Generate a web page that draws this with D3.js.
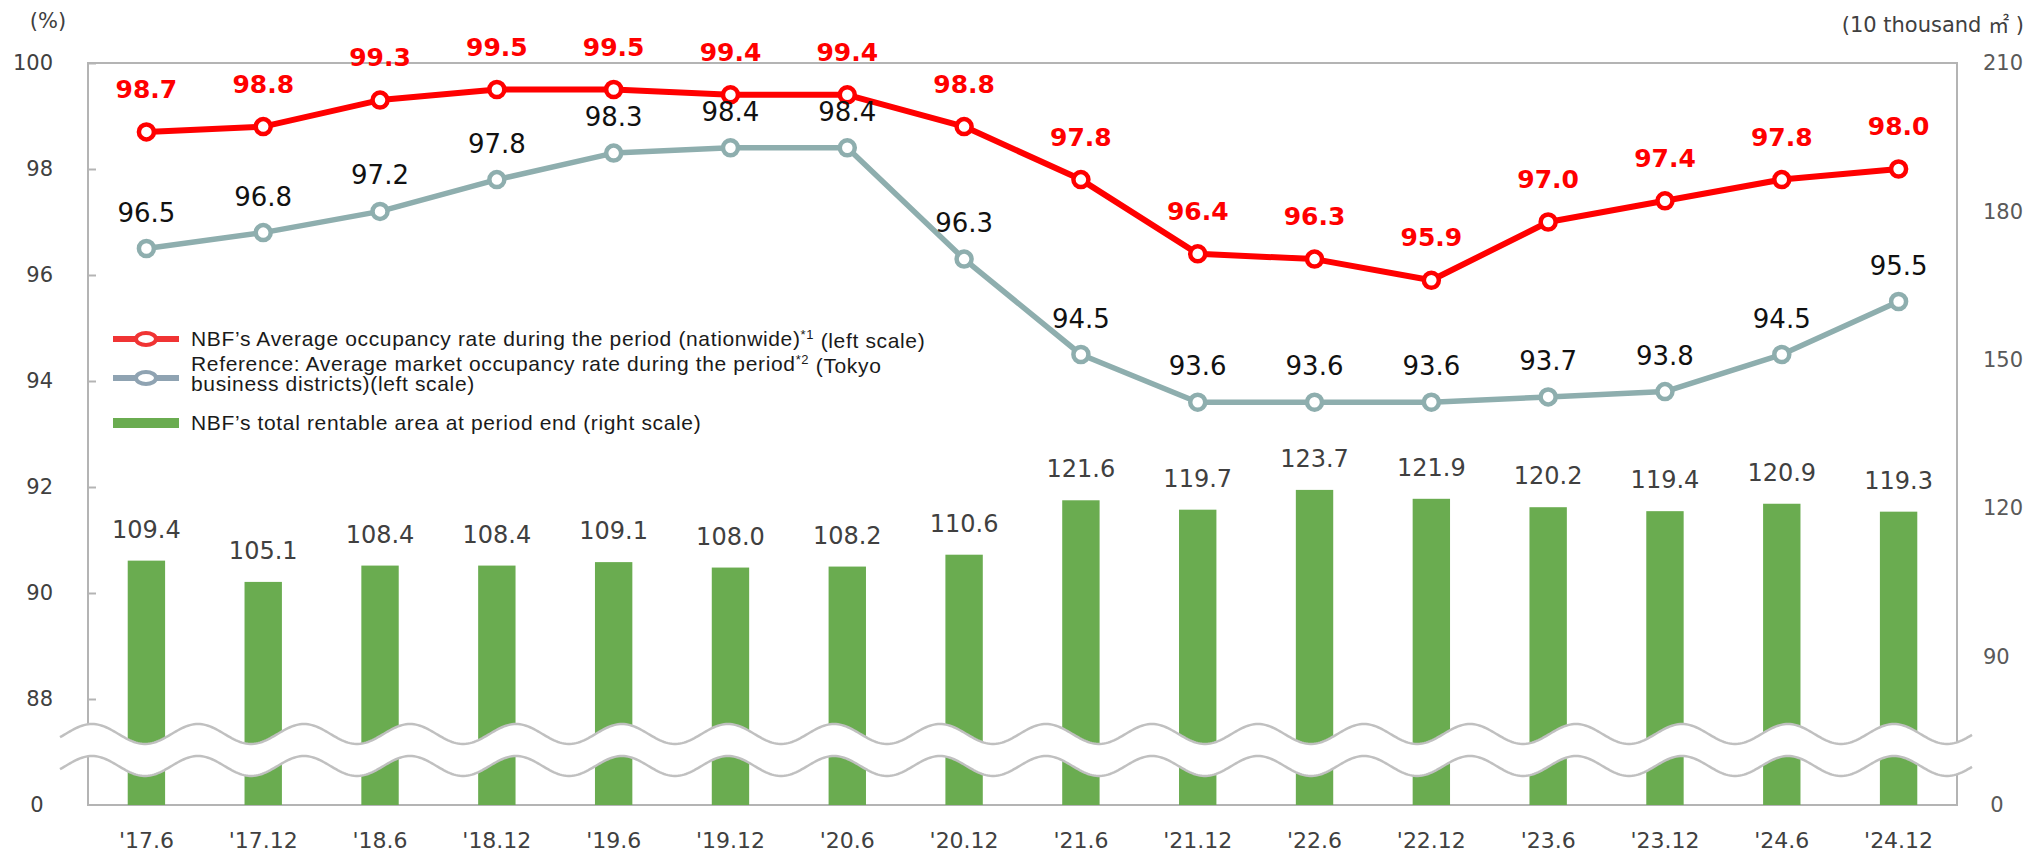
<!DOCTYPE html>
<html>
<head>
<meta charset="utf-8">
<script src="https://d3js.org/d3.v7.min.js"></script>
<style>
  body { margin: 0; background: #fff; }
  text { font-family: "DejaVu Sans", Verdana, sans-serif; }
  .axis text { font-size: 21px; }
  .legend text { font-family: "Liberation Sans", Arial, sans-serif; font-size: 21px; letter-spacing: 0.65px; fill: #1a1a1a; }
</style>
</head>
<body>
<svg width="2031" height="852"></svg>
<script>
const periods = ["'17.6", "'17.12", "'18.6", "'18.12", "'19.6", "'19.12", "'20.6", "'20.12",
                 "'21.6", "'21.12", "'22.6", "'22.12", "'23.6", "'23.12", "'24.6", "'24.12"];
const nbfOccupancy = [98.7, 98.8, 99.3, 99.5, 99.5, 99.4, 99.4, 98.8, 97.8, 96.4, 96.3, 95.9, 97.0, 97.4, 97.8, 98.0];
const marketOccupancy = [96.5, 96.8, 97.2, 97.8, 98.3, 98.4, 98.4, 96.3, 94.5, 93.6, 93.6, 93.6, 93.7, 93.8, 94.5, 95.5];
const rentableArea = [109.4, 105.1, 108.4, 108.4, 109.1, 108.0, 108.2, 110.6, 121.6, 119.7, 123.7, 121.9, 120.2, 119.4, 120.9, 119.3];
const leftTicks = [88, 90, 92, 94, 96, 98, 100];
const rightTicks = [90, 120, 150, 180, 210];

const svg = d3.select("svg");
const plot = { left: 88, right: 1957, top: 63, bottom: 805 };

const x = d3.scaleBand().domain(periods)
    .range([plot.left, plot.right])
    .paddingInner(0.68).paddingOuter(0.34);
const cx = d => x(d) + x.bandwidth() / 2;

// left scale: 86 sits under the axis break and is shown as "0"
const yL = d3.scaleLinear().domain([86, 100]).range([plot.bottom, plot.top]);
// right scale: 60 sits under the axis break and is shown as "0"
const yR = d3.scaleLinear().domain([60, 210]).range([plot.bottom, plot.top]);

const gridColor = "#b4b4b4";

// frame
svg.append("rect")
    .attr("x", plot.left).attr("y", plot.top)
    .attr("width", plot.right - plot.left).attr("height", plot.bottom - plot.top)
    .attr("fill", "none").attr("stroke", gridColor).attr("stroke-width", 2);

// left axis
const leftAxis = svg.append("g").attr("class", "axis")
    .attr("transform", `translate(${plot.left},0)`)
    .call(d3.axisLeft(yL).tickValues(leftTicks).tickSizeInner(-8).tickSizeOuter(0).tickPadding(35));
leftAxis.select(".domain").remove();
leftAxis.selectAll("line").attr("stroke", gridColor).attr("stroke-width", 2);
leftAxis.selectAll("text").attr("fill", "#404040");

// right axis
const rightAxis = svg.append("g").attr("class", "axis")
    .attr("transform", `translate(${plot.right},0)`)
    .call(d3.axisRight(yR).tickValues(rightTicks).tickSize(0).tickPadding(26));
rightAxis.select(".domain").remove();
rightAxis.selectAll("text").attr("fill", "#595959");

// "0" labels under the break
svg.append("text").attr("x", 37).attr("y", yL(86)).attr("dy", "0.35em")
    .attr("text-anchor", "middle").attr("font-size", 21).attr("fill", "#404040").text("0");
svg.append("text").attr("x", 1997).attr("y", yR(60)).attr("dy", "0.35em")
    .attr("text-anchor", "middle").attr("font-size", 21).attr("fill", "#595959").text("0");

// unit captions
svg.append("text").attr("x", 48).attr("y", 21).attr("dy", "0.35em")
    .attr("text-anchor", "middle").attr("font-size", 21).attr("fill", "#404040").text("(%)");
const unit = svg.append("text").attr("x", 2024).attr("y", 25).attr("dy", "0.35em")
    .attr("text-anchor", "end").attr("font-size", 21).attr("fill", "#404040");
unit.append("tspan").text("(10 thousand ");
unit.append("tspan").attr("font-family", "'Noto Sans CJK JP', sans-serif").text("㎡");
unit.append("tspan").text(" )");

// x axis labels
svg.append("g").selectAll("text")
    .data(periods)
    .join("text")
    .attr("x", d => cx(d))
    .attr("y", 840).attr("dy", "0.35em")
    .attr("text-anchor", "middle")
    .attr("font-size", 22)
    .attr("fill", "#404040")
    .text(d => d);

// bars
svg.append("g").selectAll("rect")
    .data(rentableArea)
    .join("rect")
    .attr("x", (d, i) => x(periods[i]))
    .attr("y", d => yR(d))
    .attr("width", x.bandwidth())
    .attr("height", d => plot.bottom - yR(d))
    .attr("fill", "#6aac50");

svg.append("g").selectAll("text")
    .data(rentableArea)
    .join("text")
    .attr("x", (d, i) => cx(periods[i]))
    .attr("y", d => yR(d) - 23)
    .attr("text-anchor", "middle")
    .attr("font-size", 24)
    .attr("fill", "#404040")
    .text(d => d.toFixed(1));

// axis break (two waves with a white gap)
const wavePeriod = 106, waveAmp = 10, waveGap = 32;
const waveXs = d3.range(60, 1973, 2);
const waveY = xv => 734 + waveAmp * Math.cos(2 * Math.PI * (xv - 145) / wavePeriod);
const upper = waveXs.map(xv => [xv, waveY(xv)]);
const lower = waveXs.map(xv => [xv, waveY(xv) + waveGap]);
svg.append("path")
    .attr("d", d3.line()(upper.concat(lower.slice().reverse())) + "Z")
    .attr("fill", "#fff");
[upper, lower].forEach(pts => {
  svg.append("path")
      .attr("d", d3.line()(pts))
      .attr("fill", "none").attr("stroke", "#c0c0c0").attr("stroke-width", 2.5);
});

// lines
function drawSeries(values, color, width) {
  const line = d3.line().x((d, i) => cx(periods[i])).y(d => yL(d));
  svg.append("path").datum(values)
      .attr("d", line)
      .attr("fill", "none").attr("stroke", color).attr("stroke-width", width)
      .attr("stroke-linejoin", "round");
  svg.append("g").selectAll("circle")
      .data(values)
      .join("circle")
      .attr("cx", (d, i) => cx(periods[i]))
      .attr("cy", d => yL(d))
      .attr("r", 7.5)
      .attr("fill", "#fff").attr("stroke", color).attr("stroke-width", 4.5);
}
drawSeries(marketOccupancy, "#8eaeae", 5.5);
drawSeries(nbfOccupancy, "#ff0000", 6);

svg.append("g").selectAll("text")
    .data(marketOccupancy)
    .join("text")
    .attr("x", (d, i) => cx(periods[i]))
    .attr("y", d => yL(d) - 27)
    .attr("text-anchor", "middle")
    .attr("font-size", 26)
    .attr("fill", "#111")
    .text(d => d.toFixed(1));

svg.append("g").selectAll("text")
    .data(nbfOccupancy)
    .join("text")
    .attr("x", (d, i) => cx(periods[i]))
    .attr("y", d => yL(d) - 34)
    .attr("text-anchor", "middle")
    .attr("font-size", 25)
    .attr("font-weight", "bold")
    .attr("fill", "#ff0000")
    .text(d => d.toFixed(1));

// legend
const legend = svg.append("g").attr("class", "legend");
function legendLine(y, color) {
  legend.append("line").attr("x1", 113).attr("x2", 179).attr("y1", y).attr("y2", y)
      .attr("stroke", color).attr("stroke-width", 6);
  legend.append("ellipse").attr("cx", 146).attr("cy", y).attr("rx", 10).attr("ry", 6)
      .attr("fill", "#fff").attr("stroke", color).attr("stroke-width", 4);
}
legendLine(339, "#f03434");
legendLine(378, "#8fa3b2");
legend.append("rect").attr("x", 113).attr("y", 418).attr("width", 66).attr("height", 10).attr("fill", "#6aac50");

const t1 = legend.append("text").attr("x", 191).attr("y", 339).attr("dy", "0.35em");
t1.append("tspan").text("NBF’s Average occupancy rate during the period (nationwide)");
t1.append("tspan").attr("font-size", 13).attr("dy", "-0.6em").text("*1");
t1.append("tspan").attr("dy", "0.45em").text("  (left scale)");

const t2 = legend.append("text").attr("x", 191).attr("y", 364).attr("dy", "0.35em");
t2.append("tspan").text("Reference: Average market occupancy rate during the period");
t2.append("tspan").attr("font-size", 13).attr("dy", "-0.6em").text("*2");
t2.append("tspan").attr("dy", "0.45em").text(" (Tokyo");
legend.append("text").attr("x", 191).attr("y", 384).attr("dy", "0.35em")
    .text("business districts)(left scale)");

legend.append("text").attr("x", 191).attr("y", 423).attr("dy", "0.35em")
    .text("NBF’s total rentable area at period end (right scale)");
</script>
</body>
</html>
